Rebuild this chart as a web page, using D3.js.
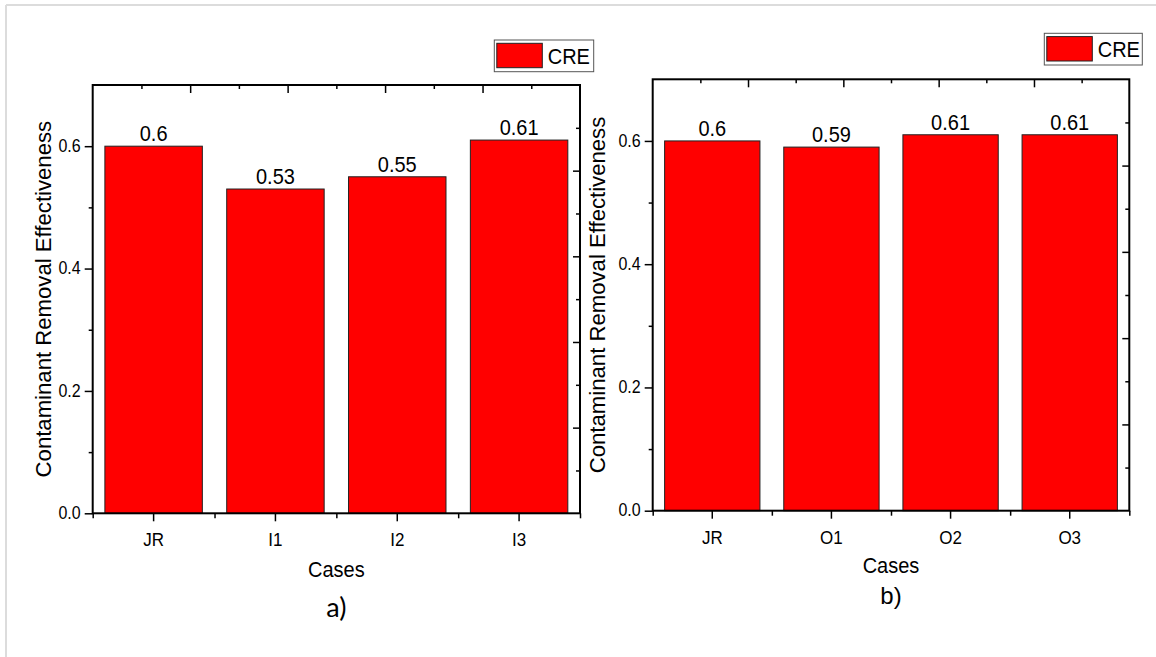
<!DOCTYPE html>
<html><head><meta charset="utf-8">
<script src="https://cdn.jsdelivr.net/npm/d3@7"></script>
<style>
body{margin:0;background:#fff}
svg{display:block}
text{font-family:"Liberation Sans",Arial,sans-serif;fill:#000}
</style>
</head><body>
<svg id="c" width="1156" height="657"></svg>
<script>
// ---- data ----
const categoriesA = ["JR", "I1", "I2", "I3"];
const valuesA = [0.6, 0.53, 0.55, 0.61];
const categoriesB = ["JR", "O1", "O2", "O3"];
const valuesB = [0.6, 0.59, 0.61, 0.61];
const yTickValues = [0.0, 0.2, 0.4, 0.6];
const yMinorTickValues = [0.1, 0.3, 0.5];
const yDomain = [0, 0.7];
const seriesName = "CRE";
const yTitle = "Contaminant Removal Effectiveness";
const xTitle = "Cases";
const panelLabels = ["a)", "b)"];

const SY = 1.1; // slight vertical stretch of glyphs seen in the reference

const svg = d3.select("#c");

svg.append("line").attr("x1", 6).attr("y1", 5).attr("x2", 1156).attr("y2", 5)
  .attr("stroke", "#dcdcdc").attr("stroke-width", 2);
svg.append("line").attr("x1", 6).attr("y1", 5).attr("x2", 6).attr("y2", 657)
  .attr("stroke", "#dcdcdc").attr("stroke-width", 2);

function stretchedText(g, x, y, str, size, anchor) {
  return g.append("text")
    .attr("transform", `translate(${x},${y}) scale(1,${SY})`)
    .attr("text-anchor", anchor || "middle").attr("font-size", size).text(str);
}

const panels = [
  {cats: categoriesA, vals: valuesA, label: panelLabels[0],
   fx: 92.7, fy: 85, fw: 487.3, fh: 428.3,
   leg: {x: 494.3, y: 40, w: 99.4, h: 31.7},
   titleX: 43, casesY: 577, labelY: 617, labelFont: "Lato", labelSize: 27},
  {cats: categoriesB, vals: valuesB, label: panelLabels[1],
   fx: 652.7, fy: 79.3, fw: 476.6, fh: 431.4,
   leg: {x: 1044.3, y: 33.3, w: 98, h: 31.7},
   titleX: 597, casesY: 573, labelY: 604, labelFont: "Liberation Sans", labelSize: 24}
];

panels.forEach(p => {
  const g = svg.append("g");
  const x = d3.scaleBand().domain(p.cats).range([p.fx, p.fx + p.fw])
    .paddingInner(0.2).paddingOuter(0.1);
  const y = d3.scaleLinear().domain(yDomain).range([p.fy + p.fh, p.fy]);

  // bars
  g.selectAll("rect.bar").data(p.vals).join("rect").attr("class", "bar")
    .attr("x", (d, i) => x(p.cats[i]))
    .attr("y", d => y(d))
    .attr("width", x.bandwidth())
    .attr("height", d => y(0) - y(d))
    .attr("fill", "#ff0000").attr("stroke", "#222").attr("stroke-width", 1);

  // value labels
  p.vals.forEach((d, i) => {
    stretchedText(g, x(p.cats[i]) + x.bandwidth() / 2, y(d) - 5, String(d), 20);
  });

  // left axis
  const la = g.append("g").attr("transform", `translate(${p.fx},0)`)
    .call(d3.axisLeft(y).tickValues(yTickValues).tickFormat(d3.format(".1f"))
      .tickSize(8).tickPadding(4).tickSizeOuter(0));
  la.selectAll("text").attr("font-size", 16).style("font-family", "Liberation Sans")
    .attr("transform", `scale(1,${SY})`).attr("dy", "0.3em");
  la.select(".domain").remove();
  la.selectAll("line").attr("stroke-width", 1.5);
  const lam = g.append("g").attr("transform", `translate(${p.fx},0)`)
    .call(d3.axisLeft(y).tickValues(yMinorTickValues).tickFormat("").tickSize(4).tickSizeOuter(0));
  lam.select(".domain").remove();
  lam.selectAll("line").attr("stroke-width", 1.5);

  // bottom axis (major at categories)
  const ba = g.append("g").attr("transform", `translate(0,${p.fy + p.fh})`)
    .call(d3.axisBottom(x).tickSize(8).tickPadding(10).tickSizeOuter(0));
  ba.select(".domain").remove();
  ba.selectAll("line").attr("stroke-width", 1.5);
  ba.selectAll("text").attr("font-size", 17).style("font-family", "Liberation Sans")
    .attr("transform", `scale(1,${SY})`);
  // bottom minor ticks at category boundaries
  const bScale = d3.scaleLinear().domain([0, p.cats.length]).range([p.fx, p.fx + p.fw]);
  const bm = g.append("g").attr("transform", `translate(0,${p.fy + p.fh})`)
    .call(d3.axisBottom(bScale).tickValues(d3.range(p.cats.length + 1)).tickFormat("")
      .tickSize(5).tickSizeOuter(0));
  bm.select(".domain").remove();
  bm.selectAll("line").attr("stroke-width", 1.5);

  // top axis (inward)
  const tScale = d3.scaleLinear().domain([0, 10]).range([p.fx, p.fx + p.fw]);
  const ta = g.append("g").attr("transform", `translate(0,${p.fy})`)
    .call(d3.axisBottom(tScale).tickValues(d3.range(1, 10).filter(d => d % 2 === 0)).tickFormat("")
      .tickSize(8).tickSizeOuter(0));
  ta.select(".domain").remove();
  ta.selectAll("line").attr("stroke-width", 1.5);
  const tam = g.append("g").attr("transform", `translate(0,${p.fy})`)
    .call(d3.axisBottom(tScale).tickValues(d3.range(1, 10).filter(d => d % 2 === 1)).tickFormat("")
      .tickSize(4).tickSizeOuter(0));
  tam.select(".domain").remove();
  tam.selectAll("line").attr("stroke-width", 1.5);

  // right axis (inward)
  const rScale = d3.scaleLinear().domain([0, 10]).range([p.fy + p.fh, p.fy]);
  const ra = g.append("g").attr("transform", `translate(${p.fx + p.fw},0)`)
    .call(d3.axisLeft(rScale).tickValues(d3.range(1, 10).filter(d => d % 2 === 0)).tickFormat("")
      .tickSize(7).tickSizeOuter(0));
  ra.select(".domain").remove();
  ra.selectAll("line").attr("stroke-width", 1.5);
  const ram = g.append("g").attr("transform", `translate(${p.fx + p.fw},0)`)
    .call(d3.axisLeft(rScale).tickValues(d3.range(1, 10).filter(d => d % 2 === 1)).tickFormat("")
      .tickSize(4).tickSizeOuter(0));
  ram.select(".domain").remove();
  ram.selectAll("line").attr("stroke-width", 1.5);

  // frame
  g.append("rect").attr("x", p.fx).attr("y", p.fy).attr("width", p.fw).attr("height", p.fh)
    .attr("fill", "none").attr("stroke", "#000").attr("stroke-width", 2);

  // y title
  g.append("text")
    .attr("transform", `translate(${p.titleX},${p.fy + p.fh / 2}) rotate(-90) scale(1.03,1.05)`)
    .attr("text-anchor", "middle").attr("dominant-baseline", "central")
    .attr("font-size", 21.5).text(yTitle);

  // x title
  stretchedText(g, p.fx + p.fw / 2, p.casesY, xTitle, 20);

  // panel label
  g.append("text").attr("x", p.fx + p.fw / 2).attr("y", p.labelY)
    .attr("text-anchor", "middle").attr("font-size", p.labelSize)
    .style("font-family", p.labelFont).text(p.label);

  // legend
  const L = p.leg;
  g.append("rect").attr("x", L.x).attr("y", L.y).attr("width", L.w).attr("height", L.h)
    .attr("fill", "#fff").attr("stroke", "#555").attr("stroke-width", 1);
  g.append("rect").attr("x", L.x + 2.5).attr("y", L.y + 3.3).attr("width", 45.5).attr("height", 24.4)
    .attr("fill", "#ff0000").attr("stroke", "#222").attr("stroke-width", 1);
  stretchedText(g, L.x + 53.4, L.y + 23.5, seriesName, 20, "start");
});
</script>
</body></html>
